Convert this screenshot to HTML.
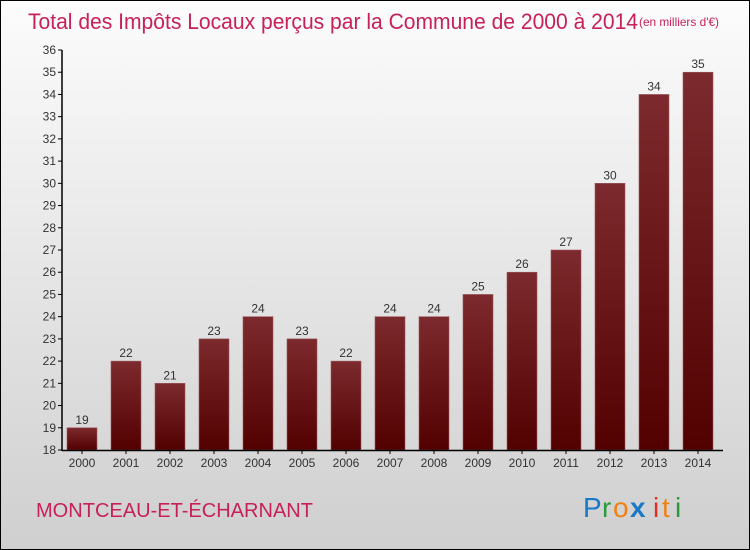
<!DOCTYPE html>
<html><head><meta charset="utf-8"><style>
body{margin:0}
#c{width:748px;height:548px;border:1px solid #000;background:linear-gradient(#fcfcfc,#cfcfcf);position:relative;font-family:"Liberation Sans",sans-serif;overflow:hidden}
</style></head><body>
<div id="c">
<svg width="748" height="548" id="s">
<defs><linearGradient id="g" x1="0" y1="0" x2="0" y2="1"><stop offset="0" stop-color="#7d2a2e"/><stop offset="1" stop-color="#520000"/></linearGradient></defs>
<text x="27" y="28" font-size="22" fill="#c8205a" textLength="610" lengthAdjust="spacingAndGlyphs">Total des Impôts Locaux perçus par la Commune de 2000 à 2014</text>
<text x="638" y="25" font-size="12" fill="#c8205a" textLength="80" lengthAdjust="spacingAndGlyphs">(en milliers d'€)</text>
<text x="35" y="516" font-size="20" fill="#c8205a" textLength="277" lengthAdjust="spacingAndGlyphs">MONTCEAU-ET-ÉCHARNANT</text>
<g font-size="28"><text x="582" y="516" fill="#1a78c8">P</text><text x="601" y="516" fill="#2a9a3a">r</text><text x="612" y="516" fill="#f08010">o</text><text x="629" y="516" fill="#1a78c8" font-weight="bold">x</text><text x="652" y="516" fill="#e03020">i</text><text x="661" y="516" fill="#f08010">t</text><text x="674" y="516" fill="#2a9a3a">i</text></g>
<g id="plot"></g>
</svg>
</div>
<script>
const categories=["2000","2001","2002","2003","2004","2005","2006","2007","2008","2009","2010","2011","2012","2013","2014"];
const values=[19,22,21,23,24,23,22,24,24,25,26,27,30,34,35];
const yTicks=[18,19,20,21,22,23,24,25,26,27,28,29,30,31,32,33,34,35,36];
const NS="http://www.w3.org/2000/svg";
const plot=document.getElementById('plot');
const y=v=>449-(v-18)*(400/18);
const x=i=>66+44*i;
function mk(t,a,txt){const e=document.createElementNS(NS,t);for(const k in a)e.setAttribute(k,a[k]);if(txt!=null)e.textContent=txt;plot.appendChild(e);return e;}
values.forEach((v,i)=>{
 const r=mk('rect',{x:x(i),y:y(v),width:30,height:449-y(v),fill:'url(#g)',stroke:'#9a5a5e','stroke-width':0.6});
 
 
 const l=mk('text',{x:x(i)+15,y:y(v)-4,'font-size':12,fill:'#333','text-anchor':'middle'},v);
 
 
 const c=mk('text',{x:x(i)+15,y:466,'font-size':12,fill:'#333','text-anchor':'middle'},categories[i]);
 
 
 const tk=mk('line',{x1:x(i)+15,x2:x(i)+15,y1:449,y2:453,stroke:'#000'});
 
 
});
yTicks.forEach(t=>{
 const tl=mk('text',{x:55,y:y(t)+4,'font-size':12,fill:'#333','text-anchor':'end'},t);
 
 
 const tm=mk('line',{x1:57,x2:61,y1:y(t),y2:y(t),stroke:'#000'});
 
 
});
const ya=mk('line',{x1:61,x2:61,y1:y(36),y2:450,stroke:'#000','stroke-width':1.5});


const xa=mk('line',{x1:61,x2:722,y1:449.5,y2:449.5,stroke:'#000','stroke-width':1.5});


</script>
</body></html>
